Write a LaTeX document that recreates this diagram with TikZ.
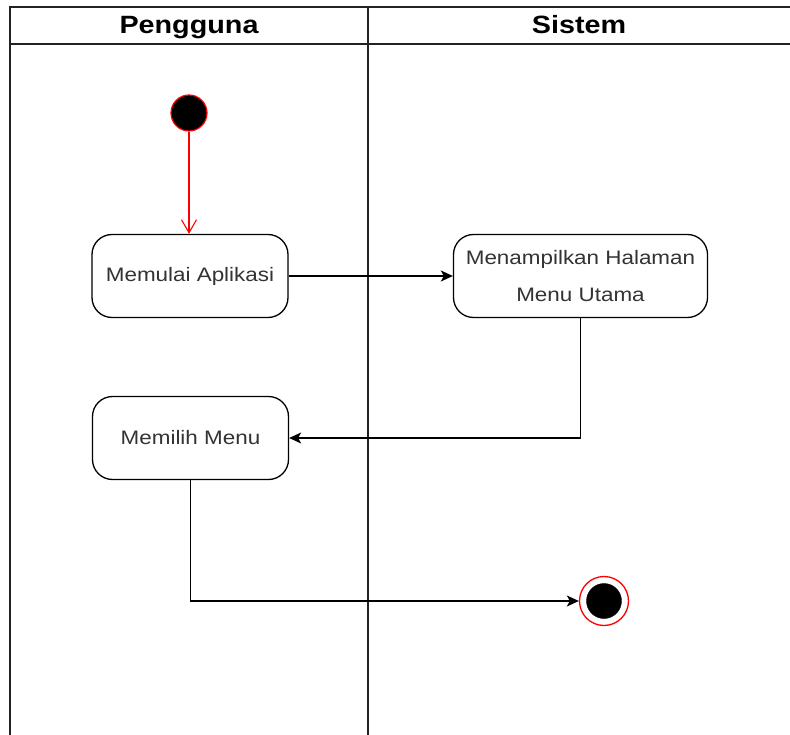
\documentclass[tikz,border=0pt]{standalone}
\usepackage{fontspec}
\setmainfont{Liberation Sans}[FakeStretch=1.15]
\usetikzlibrary{arrows.meta}
\definecolor{txtgray}{HTML}{333333}
\definecolor{lanegray}{HTML}{222222}
\definecolor{umlred}{HTML}{FF0000}
\tikzset{
  lane/.style={draw=lanegray, line width=1.5pt},
  lanetitle/.style={font=\fontsize{25}{30}\selectfont\bfseries, text=black, anchor=base},
  actbox/.style={draw=black, line width=1.3pt, rounded corners=20pt, fill=white,
    minimum width=196pt, minimum height=83pt, align=center, text=txtgray,
    font=\fontsize{19.5}{37}\selectfont, inner sep=0pt},
  flow/.style={draw=black, line width=1.4pt, -{Stealth[length=12pt,width=11pt,inset=3pt]}},
  startflow/.style={draw=umlred, line width=1.1pt, -{Straight Barb[length=13pt,width=15pt]}},
}
\begin{document}
\begin{tikzpicture}[x=1pt, y=-1pt]
  \useasboundingbox (0,0) rectangle (790,735);
  % swimlane frame
  \draw[lane] (790,7) -- (10,7) -- (10,735);
  \draw[lane] (10,44) -- (790,44);
  \draw[lane] (368,7) -- (368,735);
  \node[lanetitle] (lanePengguna) at (189,33.5) {Pengguna};
  \node[lanetitle] (laneSistem) at (579,33.5) {Sistem};

  % initial and final states
  \node[circle, fill=black, draw=umlred, line width=1.2pt, minimum size=36pt, inner sep=0pt] (start) at (189,113) {};
  \node[circle, fill=white, draw=umlred, line width=1.3pt, minimum size=49pt, inner sep=0pt] (final) at (604,601) {};
  \node[circle, fill=black, draw=black, minimum size=35pt, inner sep=0pt] (finalcore) at (604,601) {};

  % activities
  \node[actbox] (mulai) at (190,276) {Memulai Aplikasi};
  \node[actbox, minimum width=254pt] (tampil) at (580.5,276) {Menampilkan Halaman\\Menu Utama};
  \node[actbox] (pilih) at (190.5,438) {Memilih Menu};

  % control flow
  \draw[startflow] (start) -- (start |- mulai.north);
  \draw[flow] (mulai) -- (tampil);
  \draw[flow] (tampil.south) |- (pilih.east);
  \draw[flow] (pilih.south) |- (final.west);
\end{tikzpicture}
\end{document}
